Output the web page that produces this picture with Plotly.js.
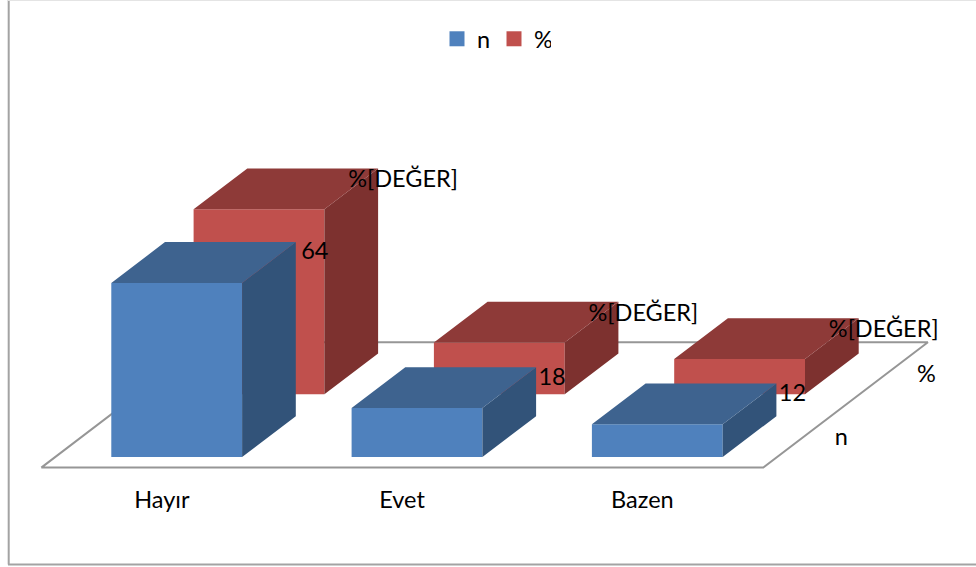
<!DOCTYPE html>
<html>
<head>
<meta charset="utf-8">
<script src="https://cdn.plot.ly/plotly-3.0.1.min.js"></script>
<style>html,body{margin:0;padding:0;background:#fff;overflow:hidden}</style>
</head>
<body>
<div id="chart" style="width:976px;height:567px"></div>
<script>
// Survey answers, drawn as an oblique 3-D column chart
const categories = ['Hayır', 'Evet', 'Bazen'];
const nValues = [64, 18, 12];
const pctValues = [68, 19, 13];
const pctLabel = '%[DEĞER]';
const seriesNames = ['n', '%'];

// Pixel scale of the two axes: one category step across, one count unit up
const W = 976, H = 567;
const PX_PER_CAT = 240.3, PX_PER_UNIT = 2.72;
const ORIGIN_X = 111.3, ORIGIN_Y = 457;
const dx = px => px / PX_PER_CAT;   // horizontal pixels to axis units
const dy = px => px / PX_PER_UNIT;  // upward pixels to axis units

// Oblique projection settings
const BAR_W = dx(130.8);
const DEPTH = [dx(53.7), dy(40.8)];       // receding edge of a column
const ROW = [dx(82.3), dy(62.7)];         // offset from the n row to the % row
const FLOOR_X = [dx(-70), dx(652)];
const FLOOR_Y = dy(-10.6);

const FONT = 'Lato, Carlito, Calibri, sans-serif';
const FONT_SIZE = 23.5;

const palette = {
  n: {front: '#4f81bd', side: '#325379', top: '#3e638f'},
  pct: {front: '#c0504d', side: '#7d312f', top: '#8e3a38'}
};

// Joins closed polygons into one null-separated fill path
function polys(list) {
  const x = [], y = [];
  list.forEach(p => {
    p.forEach(c => { x.push(c[0]); y.push(c[1]); });
    x.push(p[0][0], null); y.push(p[0][1], null);
  });
  return {x, y};
}

function face(list, color) {
  const p = polys(list);
  return {x: p.x, y: p.y, mode: 'lines', fill: 'toself', fillcolor: color,
    line: {width: 0, color: color}, showlegend: false, hoverinfo: 'skip'};
}

// Three visible faces per column of one row
function columns(values, row, colors) {
  const ox = row * ROW[0], oy = row * ROW[1];
  const front = [], side = [], top = [];
  values.forEach((v, i) => {
    const l = i + ox, r = l + BAR_W, b = oy, t = oy + v;
    front.push([[l, b], [r, b], [r, t], [l, t]]);
    side.push([[r, b], [r + DEPTH[0], b + DEPTH[1]], [r + DEPTH[0], t + DEPTH[1]], [r, t]]);
    top.push([[l, t], [r, t], [r + DEPTH[0], t + DEPTH[1]], [l + DEPTH[0], t + DEPTH[1]]]);
  });
  return [face(front, colors.front), face(side, colors.side), face(top, colors.top)];
}

function textTrace(x, y, text) {
  return {x, y, text, mode: 'text', textposition: 'middle center',
    textfont: {family: FONT, size: FONT_SIZE, color: '#000'},
    showlegend: false, hoverinfo: 'skip'};
}

const backShift = [2 * ROW[0], 2 * ROW[1]];
const floor = {
  x: [FLOOR_X[0], FLOOR_X[1], FLOOR_X[1] + backShift[0], FLOOR_X[0] + backShift[0], FLOOR_X[0]],
  y: [FLOOR_Y, FLOOR_Y, FLOOR_Y + backShift[1], FLOOR_Y + backShift[1], FLOOR_Y],
  mode: 'lines', line: {color: '#969696', width: 2}, showlegend: false, hoverinfo: 'skip'
};

// Labels hang off the rear top-right corner of their column
const cornerX = (i, row) => i + row * ROW[0] + BAR_W + DEPTH[0];
const cornerY = (v, row) => row * ROW[1] + v + DEPTH[1];

const nLabelNudge = [19, 16, 16];
const nLabels = textTrace(
  nValues.map((v, i) => cornerX(i, 0) + dx(nLabelNudge[i])),
  nValues.map((v, i) => cornerY(v, 0) - dy(11.5)),
  nValues.map(String));
const pctLabels = textTrace(
  pctValues.map((v, i) => cornerX(i, 1) + dx(25)),
  pctValues.map((v, i) => cornerY(v, 1) - dy(13)),
  pctValues.map(() => pctLabel));

const catLabels = textTrace(
  categories.map((c, i) => i + dx(50.5)),
  categories.map(() => dy(-45)),
  categories);
const rowLabels = textTrace(
  seriesNames.map((s, r) => FLOOR_X[1] + dx(78) + r * dx(85)),
  seriesNames.map((s, r) => FLOOR_Y + dy(28.5) + r * dy(63)),
  seriesNames);

const legendEntry = (name, color) => ({
  x: [null], y: [null], name, mode: 'markers', hoverinfo: 'skip',
  marker: {symbol: 'square', size: 15, color}
});

const traces = [
  floor,
  ...columns(pctValues, 1, palette.pct),
  ...columns(nValues, 0, palette.n),
  nLabels, pctLabels, catLabels, rowLabels,
  legendEntry(seriesNames[0], palette.n.front),
  legendEntry(seriesNames[1], palette.pct.front)
];

const layout = {
  width: W, height: H,
  margin: {l: 0, r: 0, t: 0, b: 0},
  paper_bgcolor: '#fff', plot_bgcolor: '#fff',
  font: {family: FONT, size: FONT_SIZE, color: '#000'},
  xaxis: {range: [-ORIGIN_X / PX_PER_CAT, (W - ORIGIN_X) / PX_PER_CAT], visible: false, fixedrange: true},
  yaxis: {range: [(ORIGIN_Y - H) / PX_PER_UNIT, ORIGIN_Y / PX_PER_UNIT], visible: false, fixedrange: true},
  legend: {orientation: 'h', x: 437 / W, xanchor: 'left', y: 1 - 39 / H, yanchor: 'middle',
    entrywidth: 12, entrywidthmode: 'pixels',
    bgcolor: 'rgba(0,0,0,0)', itemclick: false, itemdoubleclick: false, traceorder: 'normal'},
  shapes: [
    {type: 'line', xref: 'paper', yref: 'paper', x0: 8.7 / W, x1: 8.7 / W, y0: 1 - 564.5 / H, y1: 1, line: {color: '#a3a3a3', width: 2}},
    {type: 'line', xref: 'paper', yref: 'paper', x0: 8 / W, x1: 1, y0: 1 - 564.5 / H, y1: 1 - 564.5 / H, line: {color: '#a3a3a3', width: 2}},
    {type: 'line', xref: 'paper', yref: 'paper', x0: 8 / W, x1: 1, y0: 1 - 0.5 / H, y1: 1 - 0.5 / H, line: {color: '#e4e4e4', width: 1}}
  ]
};

Plotly.newPlot('chart', traces, layout, {displayModeBar: false, staticPlot: true});
</script>
</body>
</html>
